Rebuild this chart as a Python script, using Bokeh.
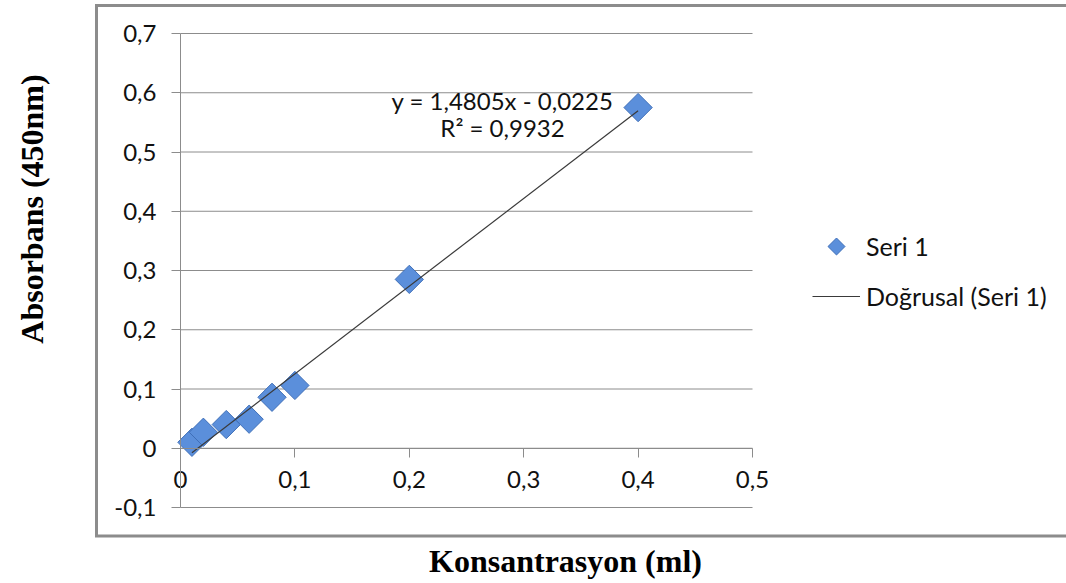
import numpy as np
from bokeh.plotting import figure
from bokeh.models import (FixedTicker, CustomJSTickFormatter, Label, LinearAxis,
                          Legend, LegendItem, Range1d)
from bokeh.embed import file_html
from bokeh.resources import INLINE

# ---- data ----
konsantrasyon = [0.01, 0.02, 0.04, 0.06, 0.08, 0.10, 0.20, 0.40]
absorbans = [0.010, 0.027, 0.040, 0.049, 0.086, 0.106, 0.285, 0.575]
x_ticks = [0, 0.1, 0.2, 0.3, 0.4, 0.5]
y_ticks = [-0.1, 0, 0.1, 0.2, 0.3, 0.4, 0.5, 0.6, 0.7]
slope = 1.4805
intercept = -0.0225
r_squared = 0.9932
series_name = "Seri 1"
trend_name = "Doğrusal (Seri 1)"
x_title = "Konsantrasyon (ml)"
y_title = "Absorbans (450nm)"

GRID = "#8c8c8c"
FONT = "Lato"
TITLE_FONT = "Liberation Serif"
W, H = 1066, 583

# pixel layout of the plot area: x 0 -> 180px, 0.5 -> 752px ; y 0.7 -> 33px, -0.1 -> 507px
PX_X0, PX_PER_X = 180.0, 1144.0
PX_Y0, PX_PER_Y = 447.75, 592.5
def dx(px):
    return (px - PX_X0) / PX_PER_X
def dy(py):
    return (PX_Y0 - py) / PX_PER_Y

p = figure(width=W, height=H,
           x_range=Range1d(dx(0), dx(W)), y_range=Range1d(dy(H), dy(0)),
           x_axis_location=None, y_axis_location=None,
           output_backend="svg", toolbar_location=None,
           min_border=0, outline_line_color=None,
           background_fill_color="white", border_fill_color="white")
p.xgrid.visible = False
p.ygrid.visible = False

fmt = CustomJSTickFormatter(code="""
if (Math.abs(tick) < 1e-9) { return '0'; }
return tick.toFixed(1).replace('.', ',');
""")

# axes crossing at the origin
xax = LinearAxis(fixed_location=0, bounds=(x_ticks[0], x_ticks[-1]),
                 ticker=FixedTicker(ticks=x_ticks), formatter=fmt)
yax = LinearAxis(fixed_location=0, bounds=(y_ticks[0], y_ticks[-1]),
                 ticker=FixedTicker(ticks=y_ticks), formatter=fmt)
for ax in (xax, yax):
    ax.axis_line_color = GRID
    ax.axis_line_width = 1
    ax.major_tick_line_color = GRID
    ax.major_tick_out = 9
    ax.major_tick_in = 0
    ax.minor_tick_line_color = None
    ax.major_label_text_font = FONT
    ax.major_label_text_font_size = "24px"
    ax.major_label_text_color = "#111111"
xax.major_label_standoff = 14
yax.major_label_standoff = 15

# horizontal gridlines over the plot area
p.segment(x0=[x_ticks[0]] * len(y_ticks), x1=[x_ticks[-1]] * len(y_ticks),
          y0=y_ticks, y1=y_ticks, line_color=GRID, line_width=1)
p.add_layout(xax, "below")
p.add_layout(yax, "left")

# data points (diamonds) and linear trendline
DIAMOND_FILL, DIAMOND_LINE = "#5B8FDB", "#3F6FB8"
pts = p.scatter(konsantrasyon, absorbans, marker="square", angle=np.pi / 4,
                size=20, fill_color=DIAMOND_FILL, line_color=DIAMOND_LINE, line_width=1)
tx = [min(konsantrasyon), max(konsantrasyon)]
ty = [slope * v + intercept for v in tx]
trend = p.line(tx, ty, line_color="#3a3a3a", line_width=1.2)

eq_text = "y = " + f"{slope:.4f}".replace(".", ",") + "x - " + f"{abs(intercept):.4f}".replace(".", ",")
r2_text = "R² = " + f"{r_squared:.4f}".replace(".", ",")
p.add_layout(Label(x=dx(502), y=dy(100), text=eq_text, text_align="center",
                   text_baseline="middle", text_font=FONT, text_font_size="24px",
                   text_color="#111111"))
p.add_layout(Label(x=dx(502), y=dy(127), text=r2_text, text_align="center",
                   text_baseline="middle", text_font=FONT, text_font_size="24px",
                   text_color="#111111"))

# legend (the diamond swatch is drawn rotated on top of an empty swatch)
swatch = p.scatter(x=[], y=[], marker="square", fill_alpha=0, line_alpha=0)
LEG_X, LEG_TOP = 812, 231
legend = Legend(items=[LegendItem(label=series_name, renderers=[swatch]),
                       LegendItem(label=trend_name, renderers=[trend])],
                location=(LEG_X, H - (LEG_TOP + 80)), orientation="vertical",
                border_line_color=None, background_fill_alpha=0,
                padding=0, margin=0, glyph_width=48, glyph_height=30,
                label_height=30, spacing=20, label_standoff=6,
                label_text_font=FONT, label_text_font_size="25px",
                label_text_color="#111111")
p.add_layout(legend)
p.scatter(x=[dx(LEG_X + 24)], y=[dy(LEG_TOP + 15)], marker="square", angle=np.pi / 4,
          size=12, fill_color=DIAMOND_FILL, line_color=DIAMOND_LINE, line_width=1)

# chart-area border (open on the right, as in the reference)
bx = [dx(W + 10), dx(96), dx(96), dx(W + 10)]
by = [dy(5), dy(5), dy(535.5), dy(535.5)]
p.line(bx, by, line_color="#8c8c8c", line_width=3, line_join="miter")

# axis titles (Times bold, outside the chart box)
p.add_layout(Label(x=dx(31), y=dy(208.5), angle=np.pi / 2, text=y_title,
                   text_align="center", text_baseline="middle",
                   text_font=TITLE_FONT, text_font_style="bold",
                   text_font_size="32px", text_color="black"))
p.add_layout(Label(x=dx(565), y=dy(560), text=x_title,
                   text_align="center", text_baseline="middle",
                   text_font=TITLE_FONT, text_font_style="bold",
                   text_font_size="32px", text_color="black"))

open("out.html", "w").write(file_html(p, INLINE))
